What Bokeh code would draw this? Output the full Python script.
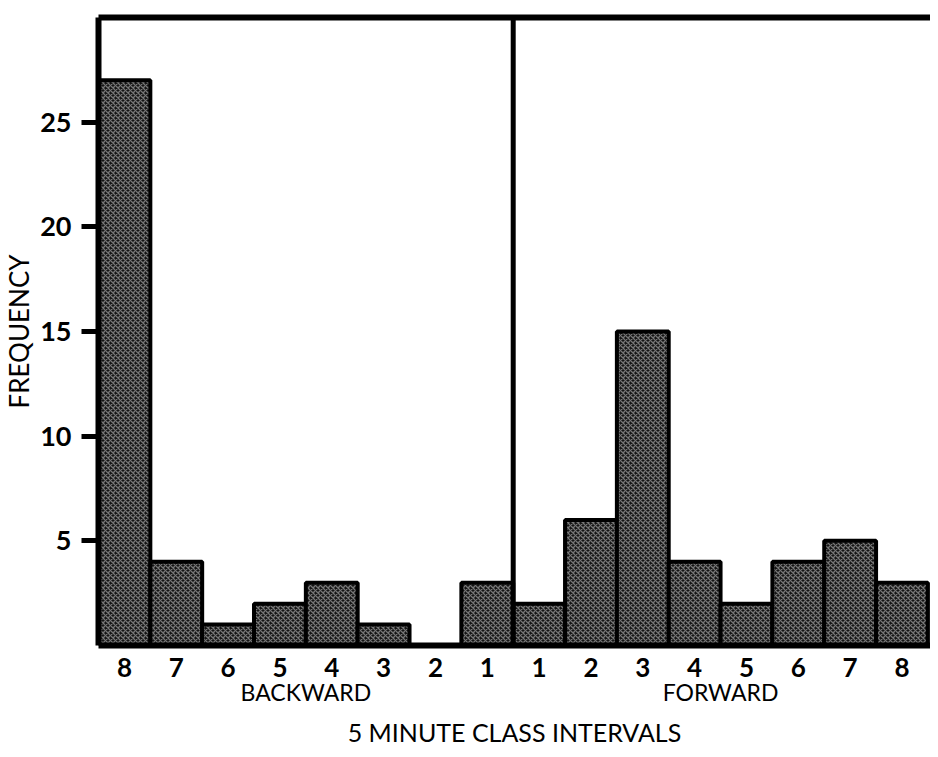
from bokeh.plotting import figure
from bokeh.models import LinearAxis, FixedTicker, Range1d, Span
from bokeh.embed import file_html
from bokeh.resources import INLINE

# Data
backward_labels = ["8", "7", "6", "5", "4", "3", "2", "1"]
backward_freq = [27, 4, 1, 2, 3, 1, 0, 3]
forward_labels = ["1", "2", "3", "4", "5", "6", "7", "8"]
forward_freq = [2, 6, 15, 4, 2, 4, 5, 3]
group_names = ["BACKWARD", "FORWARD"]
x_title = "5 MINUTE CLASS INTERVALS"
y_title = "FREQUENCY"
y_ticks = [5, 10, 15, 20, 25]

labels = backward_labels + forward_labels
freq = backward_freq + forward_freq
xs = list(range(len(freq)))
nb = len(backward_freq)
nf = len(forward_freq)

p = figure(width=930, height=749, output_backend="svg", toolbar_location=None,
           x_range=Range1d(-0.5, len(freq) - 0.45), y_range=Range1d(0, 30),
           min_border_left=87, min_border_right=0, min_border_top=17, min_border_bottom=101)
p.outline_line_color = None
p.grid.visible = False
p.background_fill_color = "white"
p.border_fill_color = "white"

p.vbar(x=xs, top=freq, width=1.0, bottom=0,
       fill_color="#141414", line_color="black", line_width=4,
       hatch_pattern="x", hatch_color="#ffffff", hatch_scale=5, hatch_weight=1.3, hatch_alpha=0.42)

div = Span(location=nb - 0.5, dimension="height", line_color="black", line_width=5)
p.add_layout(div)

# bottom axis: class labels
xa = p.xaxis[0]
xa.ticker = FixedTicker(ticks=xs)
xa.major_label_overrides = {i: l for i, l in zip(xs, labels)}
xa.axis_line_width = 6
xa.axis_line_color = "black"
xa.major_tick_line_color = None
xa.minor_tick_line_color = None
xa.major_label_standoff = 6
xa.major_label_text_font = "Lato"
xa.major_label_text_font_style = "bold"
xa.major_label_text_font_size = "26px"
xa.major_label_text_color = "black"

# group axis with x title
group_x = [(nb - 1) / 2, nb + (nf - 1) / 2]
ga = LinearAxis(ticker=FixedTicker(ticks=group_x),
                major_label_overrides={g: n for g, n in zip(group_x, group_names)})
ga.axis_line_color = None
ga.major_tick_line_color = None
ga.minor_tick_line_color = None
ga.major_tick_out = 0
ga.major_tick_in = 0
ga.major_label_standoff = -2
ga.major_label_text_font = "Lato"
ga.major_label_text_font_size = "23px"
ga.major_label_text_color = "black"
ga.axis_label = x_title
ga.axis_label_standoff = 8
ga.axis_label_text_font = "Lato"
ga.axis_label_text_font_style = "normal"
ga.axis_label_text_font_size = "25px"
ga.axis_label_text_color = "black"
p.add_layout(ga, "below")

# y axis
ya = p.yaxis[0]
ya.ticker = FixedTicker(ticks=y_ticks)
ya.axis_line_width = 6
ya.axis_line_color = "black"
ya.major_tick_line_width = 5
ya.major_tick_line_color = "black"
ya.major_tick_out = 17
ya.major_tick_in = 0
ya.minor_tick_line_color = None
ya.major_label_standoff = 10
ya.major_label_text_font = "Lato"
ya.major_label_text_font_style = "bold"
ya.major_label_text_font_size = "27px"
ya.major_label_text_color = "black"
ya.axis_label = y_title
ya.axis_label_standoff = 2
ya.axis_label_text_font = "Lato"
ya.axis_label_text_font_style = "normal"
ya.axis_label_text_font_size = "26px"
ya.axis_label_text_color = "black"

# top border
ta = LinearAxis(ticker=FixedTicker(ticks=[]))
ta.axis_line_width = 6
ta.axis_line_color = "black"
ta.major_tick_line_color = None
ta.minor_tick_line_color = None
ta.major_label_text_font_size = "0px"
p.add_layout(ta, "above")

open("out.html", "w").write(file_html(p, INLINE))
